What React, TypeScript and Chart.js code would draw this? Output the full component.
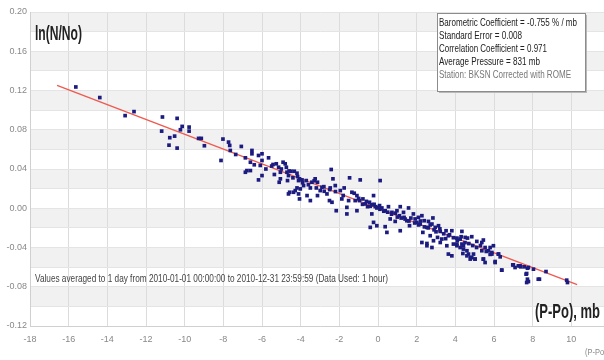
import React, { useEffect, useRef } from "react";
import { Chart, registerables } from "chart.js";

Chart.register(...registerables);

// (P-Po) in mb for each daily average
const pressureDiff: number[] = [
  -15.63, -14.39, -13.08, -12.62, -11.15, -11.19, -10.39, -10.77, -10.52, -10.81,
  -10.39, -10.22, -10.13, -9.77, -9.77, -9.28, -9.14, -8.98, -8.12, -8.02,
  -7.73, -7.67, -7.64, -7.36, -7.07, -6.86, -6.52, -6.52, -6.6, -6.4,
  -6.18, -6.0, -6.0, -5.66, -6.86, -6.78, -6.6, -6.18, -6.0, -6.09,
  -5.43, -5.26, -5.14, -4.91, -4.8, -5.05, -5.05, -5.11, -5.36, -4.74,
  -4.71, -4.63, -4.68, -4.5, -4.33, -4.19, -4.16, -4.06, -4.11, -3.93,
  -3.71, -3.85, -4.19, -4.57, -4.63, -4.37, -4.28, -4.11, -4.02, -4.06,
  -3.67, -3.5, -3.5, -3.42, -3.25, -3.13, -3.19, -2.99, -3.13, -2.9,
  -2.78, -2.64, -2.47, -2.42, -2.33, -2.21, -2.51, -2.38, -2.16, -1.95,
  -1.87, -1.75, -1.61, -1.47, -1.52, -1.35, -1.23, -1.09, -1.18, -1.09,
  -1.61, -0.92, -0.96, -0.78, -0.66, -0.54, -0.44, -0.32, -0.23, 0.11,
  -0.14, -0.06, 0.08, 0.2, -0.32, -0.23, -0.4, -0.06, 0.37, 0.54,
  0.72, 0.63, 0.37, 0.46, 0.98, 1.11, 0.89, 1.15, 1.32, 1.35,
  1.58, 1.49, 1.63, 1.15, 1.83, 1.92, 2.01, 2.09, 2.18, 2.27,
  2.39, 2.53, 2.32, 2.61, 2.79, 2.84, 2.96, 3.13, 3.22, 3.3,
  3.52, 3.64, 2.7, 2.87, 3.08, 2.53, 3.82, 4.34, 4.08, 4.25,
  4.51, 4.63, 4.85, 5.11, 5.37, 5.45, 5.54, 5.97, 5.71, 5.89,
  6.23, 6.32, 3.9, 4.08, 4.34, 4.42, 4.6, 4.68, 4.85, 5.02,
  4.77, 5.45, 5.54, 6.06, 6.4, 6.97, 7.09, 7.38, 7.73, 8.04,
  7.66, 7.73, 8.29, 8.69, 9.76, 7.0, 7.35, 7.56, 7.78, 7.69,
  7.69, 7.78, 8.35, 9.8, 2.27, 2.53, 2.79, 3.22, 3.56, 3.64,
  3.82, 4.08, 4.25, 4.42, 4.39, 4.6, 4.8, 4.94, 5.02, 5.37,
  5.45, 5.8, 5.89, 6.06, 6.23, 6.4, 7.26, 0.3, 0.5, 0.7,
  0.9, 1.0, 1.2, 1.4, 1.6, 1.7, 1.9, 2.1, 2.2, 2.4,
  2.6, 2.7, 2.9, 3.0, 3.2, 3.4, 3.5, 3.7, 3.9, 4.1,
  4.3, 4.5, 4.7, 4.9, 5.1, 5.3, 5.6, 5.8, -1.0, -0.8,
  -0.6, -0.4, -0.2, 0.0, 0.1, -5.8, -5.5, -5.0, -4.6, -4.4,
  -3.9, -3.6, -3.3, -2.8, -2.5, -2.2, -1.8,
];

// ln(N/No) for each daily average
const lnRatio: number[] = [
  0.1236, 0.1128, 0.0944, 0.0985, 0.093, 0.0786, 0.0916, 0.0719, 0.0735, 0.0643,
  0.0613, 0.08, 0.0834, 0.0827, 0.0786, 0.0712, 0.0712, 0.0637, 0.0487, 0.0705,
  0.0674, 0.064, 0.0589, 0.0548, 0.063, 0.0514, 0.0589, 0.0555, 0.0469, 0.0443,
  0.0538, 0.0555, 0.0487, 0.0514, 0.0367, 0.0384, 0.0384, 0.0289, 0.0333, 0.0436,
  0.0446, 0.0453, 0.0418, 0.0469, 0.0453, 0.0367, 0.03, 0.0265, 0.0344, 0.0418,
  0.0367, 0.0333, 0.0282, 0.0377, 0.0377, 0.0357, 0.0323, 0.03, 0.0282, 0.0289,
  0.0282, 0.0231, 0.0207, 0.0163, 0.0146, 0.0163, 0.018, 0.0146, 0.0197, 0.0095,
  0.0129, 0.0078, 0.0207, 0.0265, 0.03, 0.0265, 0.0207, 0.018, 0.0129, 0.0214,
  0.0173, 0.0146, 0.0207, 0.0395, 0.03, 0.0231, 0.0078, 0.0061, -0.0025, 0.018,
  0.0095, 0.0207, 0.0009, 0.031, 0.0078, 0.0163, 0.0153, 0.0129, 0.0078, -0.0025,
  -0.0058, 0.0289, 0.0078, 0.0095, 0.0044, 0.0016, 0.0061, 0.0037, 0.0129, 0.0282,
  0.0016, 0.0003, 0.0027, 0.0003, -0.0058, -0.0144, -0.0195, -0.0178, -0.0025, 0.0016,
  -0.0042, -0.0109, -0.0188, -0.0246, -0.0025, -0.0076, -0.0134, 0.0016, -0.0042, -0.0093,
  0.0003, -0.0127, -0.0178, -0.0229, -0.0058, -0.0109, -0.0144, -0.0093, -0.0161, -0.0076,
  -0.0127, -0.0195, -0.0246, -0.0134, -0.0161, -0.0099, -0.0195, -0.0178, -0.0236, -0.0314,
  -0.0229, -0.028, -0.028, -0.0331, -0.0297, -0.0382, -0.0229, -0.0236, -0.0304, -0.0314,
  -0.0297, -0.0304, -0.029, -0.0338, -0.0349, -0.0324, -0.04, -0.0382, -0.0433, -0.0467,
  -0.0467, -0.0495, -0.0365, -0.0382, -0.0365, -0.0416, -0.0433, -0.0467, -0.0502, -0.0518,
  -0.0518, -0.0518, -0.0553, -0.0553, -0.0631, -0.0577, -0.0604, -0.0597, -0.0611, -0.0621,
  -0.0672, -0.0723, -0.0723, -0.0645, -0.0733, -0.0577, -0.0587, -0.0597, -0.0604, -0.0665,
  -0.0757, -0.0747, -0.0723, -0.0757, -0.0349, -0.0359, -0.04, -0.0349, -0.0382, -0.0467,
  -0.0485, -0.0365, -0.04, -0.0382, -0.0461, -0.0485, -0.0502, -0.0467, -0.0518, -0.0433,
  -0.0518, -0.04, -0.0451, -0.0543, -0.0467, -0.0631, -0.0587, -0.003, -0.004, -0.006,
  -0.005, -0.009, -0.01, -0.011, -0.013, -0.01, -0.015, -0.017, -0.013, -0.019,
  -0.02, -0.017, -0.022, -0.024, -0.021, -0.026, -0.031, -0.027, -0.03, -0.033,
  -0.029, -0.035, -0.036, -0.038, -0.04, -0.038, -0.044, -0.047, 0.01, 0.004,
  0.007, 0.002, 0.004, 0.001, -0.001, 0.04, 0.043, 0.04, 0.038, 0.031,
  0.026, 0.024, 0.028, 0.022, 0.019, 0.017, 0.013,
];

// Regression line end points
const fitX: number[] = [-16.6, 10.3];
const fitY: number[] = [0.1253, -0.0778];

const infoLines: string[] = [
  "Barometric Coefficient = -0.755 % / mb",
  "Standard Error = 0.008",
  "Correlation Coefficient = 0.971",
  "Average Pressure = 831 mb",
  "Station: BKSN Corrected with ROME",
];
const yTitle = "ln(N/No)";
const xTitle = "(P-Po), mb";
const noteText =
  "Values averaged to 1 day from 2010-01-01 00:00:00 to 2010-12-31 23:59:59 (Data Used: 1 hour)";

const FONT = "'Liberation Sans Narrow', 'Liberation Sans', Arial, sans-serif";

function drawFit(
  ctx: CanvasRenderingContext2D,
  text: string,
  x: number,
  y: number,
  font: string,
  color: string,
  width: number
) {
  ctx.save();
  ctx.font = font;
  const w = ctx.measureText(text).width;
  ctx.translate(x, y);
  ctx.scale(width / w, 1);
  ctx.fillStyle = color;
  ctx.textBaseline = "alphabetic";
  ctx.textAlign = "left";
  ctx.fillText(text, 0, 0);
  ctx.restore();
}

const bandsPlugin = {
  id: "bands",
  beforeDraw(chart: any) {
    const { ctx, chartArea, scales } = chart;
    const y = scales.y;
    ctx.save();
    ctx.fillStyle = "#f1f1f1";
    for (let m = 20; m >= -8; m -= 4) {
      const top = y.getPixelForValue(m / 100);
      const bot = y.getPixelForValue((m - 2) / 100);
      ctx.fillRect(chartArea.left, top, chartArea.right - chartArea.left, bot - top);
    }
    ctx.restore();
  },
};

const textPlugin = {
  id: "texts",
  afterDraw(chart: any) {
    const { ctx } = chart;
    // axis labels inside the plot
    drawFit(ctx, yTitle, 35, 40, `bold 20px ${FONT}`, "#222", 47);
    drawFit(ctx, xTitle, 535, 318, `bold 20px ${FONT}`, "#222", 65);
    drawFit(ctx, noteText, 35, 282, `11px ${FONT}`, "#444", 353);
    // small axis title at bottom right
    drawFit(ctx, xTitle, 585, 355, `9px ${FONT}`, "#888", 36);

    // info box
    const bx = 437, by = 13, bw = 148, bh = 78;
    ctx.save();
    ctx.fillStyle = "#b8b8b8";
    ctx.fillRect(bx + 2, by + 2, bw, bh);
    ctx.fillStyle = "#ffffff";
    ctx.fillRect(bx, by, bw, bh);
    ctx.strokeStyle = "#8c8c8c";
    ctx.lineWidth = 1;
    ctx.strokeRect(bx + 0.5, by + 0.5, bw, bh);
    ctx.restore();
    const widths = [138, 83, 108, 101, 132];
    infoLines.forEach((t, i) => {
      drawFit(
        ctx,
        t,
        439,
        26 + i * 13,
        `11px ${FONT}`,
        i === 4 ? "#777" : "#222",
        widths[i]
      );
    });
  },
};

export default function App() {
  const ref = useRef<HTMLCanvasElement | null>(null);

  useEffect(() => {
    if (!ref.current) return;
    const points = pressureDiff.map((x, i) => ({ x, y: lnRatio[i] }));
    const fit = fitX.map((x, i) => ({ x, y: fitY[i] }));
    const tickFont = { family: FONT, size: 9 };
    const chart = new Chart(ref.current, {
      type: "scatter",
      data: {
        datasets: [
          {
            label: "daily",
            data: points,
            backgroundColor: "#1c1c80",
            borderWidth: 0,
            pointStyle: "rect",
            pointRadius: 2.6,
            order: 0,
          },
          {
            type: "line",
            label: "fit",
            data: fit,
            borderColor: "#ef5a50",
            borderWidth: 1.4,
            pointRadius: 0,
            fill: false,
            order: 1,
          } as any,
        ],
      },
      options: {
        animation: false,
        responsive: false,
        events: [],
        layout: { padding: { left: 0, top: 12, right: 30, bottom: 0 } },
        plugins: {
          legend: { display: false },
          tooltip: { enabled: false },
        },
        scales: {
          x: {
            type: "linear",
            min: -18,
            max: 12,
            afterFit: (s: any) => {
              s.height = 34;
            },
            ticks: {
              stepSize: 2,
              autoSkip: false,
              maxRotation: 0,
              color: "#888",
              font: tickFont,
              padding: 8,
            },
            grid: { color: "#dcdcdc", drawTicks: false },
            border: { color: "#d0d0d0" },
          },
          y: {
            type: "linear",
            min: -0.12,
            max: 0.2,
            afterFit: (s: any) => {
              s.width = 30;
            },
            ticks: {
              stepSize: 0.02,
              autoSkip: false,
              color: "#888",
              font: tickFont,
              padding: 3,
              callback: (v: any) => {
                const r = Math.round(Number(v) * 100);
                if (r % 4 !== 0) return "";
                return (r / 100 + 0).toFixed(2);
              },
            },
            grid: { color: "#e4e4e4", drawTicks: false },
            border: { color: "#d0d0d0" },
          },
        },
      },
      plugins: [bandsPlugin, textPlugin],
    });
    return () => chart.destroy();
  }, []);

  return (
    <div
      style={{
        position: "absolute",
        left: 0,
        top: 0,
        width: 604,
        height: 360,
        overflow: "hidden",
        background: "#fff",
      }}
    >
      <canvas ref={ref} width={640} height={360} style={{ width: 640, height: 360, display: "block" }} />
    </div>
  );
}
